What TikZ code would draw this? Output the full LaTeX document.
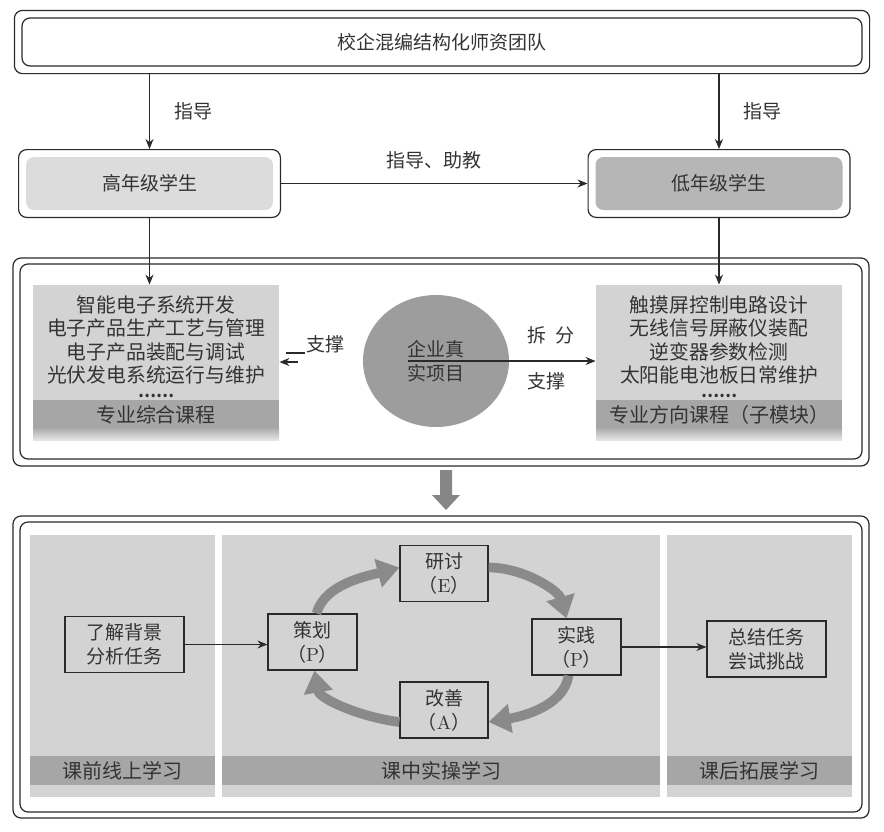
\documentclass[tikz,border=0pt]{standalone}
\usepackage{fontspec}
\newfontfamily\cjk{Noto Sans CJK SC}
\usepackage{tikz}
\usetikzlibrary{arrows.meta,positioning,fit,calc,shapes.geometric}
\definecolor{ntext}{HTML}{333333}
\definecolor{nline}{HTML}{2A2A2A}
\definecolor{nlight}{HTML}{D3D3D3}
\definecolor{nband}{HTML}{A6A6A6}
\definecolor{nhigh}{HTML}{DCDCDC}
\definecolor{nlow}{HTML}{B6B6B6}
\definecolor{ncircle}{HTML}{9D9D9D}
\definecolor{ncycle}{HTML}{8A8A8A}

\begin{document}
\begin{tikzpicture}[x=0.5pt, y=-0.5pt,
  lab/.style={text=ntext, font=\cjk\fontsize{9.5}{12}\selectfont, align=center, inner sep=0pt},
  big/.style={lab, font=\cjk\fontsize{9.9}{11.8}\selectfont},
  frame/.style={draw=nline, rounded corners=4pt, line width=0.6pt},
  outer/.style={frame, inner sep=3.5pt},
  stud/.style={lab, rounded corners=4pt, minimum width=123.5pt, minimum height=26.5pt},
  stage/.style={lab, draw=nline, line width=0.6pt, minimum height=28pt},
  arr/.style={-{Stealth[length=5pt, width=4pt]}, line width=0.6pt, nline},
  cyc/.style={-{Triangle[length=11pt, width=14pt]}, line width=4.8pt, ncycle}]
 \useasboundingbox (0,0) rectangle (884,831);
 % top: team and the two student groups
 \node[lab, frame, minimum width=420pt, minimum height=24pt] (team) at (442,42) {校企混编结构化师资团队};
 \node[outer, fit=(team)] (teamo) {};
 \node[stud, fill=nhigh] (high) at (149.5,183.5) {高年级学生};
 \node[outer, fit=(high), draw] (higho) {};
 \node[stud, fill=nlow] (low) at (719,183.5) {低年级学生};
 \node[outer, fit=(low), draw] (lowo) {};
 \draw[arr] (teamo.south -| higho.north) -- (higho.north) node[lab, midway, right=12pt] {指导};
 \draw[arr] (teamo.south -| lowo.north) -- (lowo.north) node[lab, midway, right=12pt] {指导};
 \draw[arr] (higho) -- (lowo) node[lab, midway, above=7pt] {指导、助教};
 % middle: courses and the project
 \draw[frame] (13,258) rectangle (869,466);
 \draw[frame] (20,264) rectangle (862,459);
 \foreach \x/\n in {33/zh, 596/fx} {
   \fill[nlight] (\x,285) rectangle ++(246,116);
   \fill[nband] (\x,400) rectangle ++(246,28);
   \shade[top color=nband, bottom color=nlight!60] (\x,427) rectangle ++(246,13);
   \node[fit={(\x,285) (\x+246,440)}, inner sep=0pt] (\n) {};
   \node[lab, font=\cjk\bfseries\fontsize{8}{10}\selectfont] at (\x+123,396) {……};
 }
 \node[big] at (156,340) {智能电子系统开发\\电子产品生产工艺与管理\\电子产品装配与调试\\光伏发电系统运行与维护};
 \node[lab, font=\cjk\fontsize{10}{12}\selectfont] at (156,415) {专业综合课程};
 \node[big] at (719,340) {触摸屏控制电路设计\\无线信号屏蔽仪装配\\逆变器参数检测\\太阳能电池板日常维护};
 \node[lab, font=\cjk\fontsize{10}{12}\selectfont] at (719,415) {专业方向课程（子模块）};
 \draw[arr] (higho.south) -- (higho.south |- zh.north);
 \draw[arr] (lowo.south) -- (lowo.south |- fx.north);
 \node[lab, ellipse, fill=ncircle, minimum width=73pt, minimum height=66pt] (proj) at (436,361) {企业真\\实项目};
 \draw[arr] ([xshift=-14pt]proj.center) -- (proj.center -| fx.west);
 \node[lab] at (551,335) {拆\ \ 分};
 \node[lab] at (546,381) {支撑};
 \coordinate (stub) at (298,362);
 \draw[arr] (stub) -- (stub -| zh.east);
 \draw[line width=0.6pt, nline] (286,353) -- (305,353);
 \node[lab] at (325,344) {支撑};
 % big arrow down
 \fill[gray!95] (440,470) -- (452,470) -- (452,495) -- (460,495) -- (446,510) -- (432,495) -- (440,495) -- cycle;
 % bottom: three learning phases
 \draw[frame] (13,516) rectangle (869,818);
 \draw[frame] (20,522) rectangle (862,812);
 \foreach \a/\b/\t in {30/215/课前线上学习, 222/660/课中实操学习, 667/852/课后拓展学习} {
   \fill[nlight] (\a,535) rectangle (\b,797);
   \fill[nband] (\a,756) rectangle (\b,785);
   \node[lab, font=\cjk\fontsize{10}{12}\selectfont] at ({(\a+\b)/2},771) {\t};
 }
 \node[stage, minimum width=59.5pt] (bg) at (124.5,644.5) {了解背景\\分析任务};
 \node[stage, minimum width=44.5pt] (plan) at (312.5,642) {策划\\（{\rmfamily P}）};
 \node[stage, minimum width=44pt] (disc) at (444,573.5) {研讨\\（{\rmfamily E}）};
 \node[stage, minimum width=44.5pt] (prac) at (576.5,647) {实践\\（{\rmfamily P}）};
 \node[stage, minimum width=44pt] (impr) at (444,710) {改善\\（{\rmfamily A}）};
 \node[stage, minimum width=59.5pt] (sum) at (766.5,649) {总结任务\\尝试挑战};
 \draw[arr] (bg) -- (bg -| plan.west);
 \draw[arr] (prac) -- (prac -| sum.west);
 \draw[cyc] ([xshift=2pt]plan.north) .. controls +(8,-30) and +(-30,8) .. ([yshift=3pt]disc.west);
 \draw[cyc] ([yshift=3pt]disc.east) .. controls +(35,0) and +(-8,-28) .. ([xshift=-5pt]prac.north);
 \draw[cyc] ([xshift=-4pt]prac.south) .. controls +(-5,32) and +(30,-5) .. ([yshift=-6pt]impr.east);
 \draw[cyc] ([yshift=-6pt]impr.west) .. controls +(-40,-5) and +(5,28) .. ([xshift=1pt]plan.south);
\end{tikzpicture}
\end{document}
